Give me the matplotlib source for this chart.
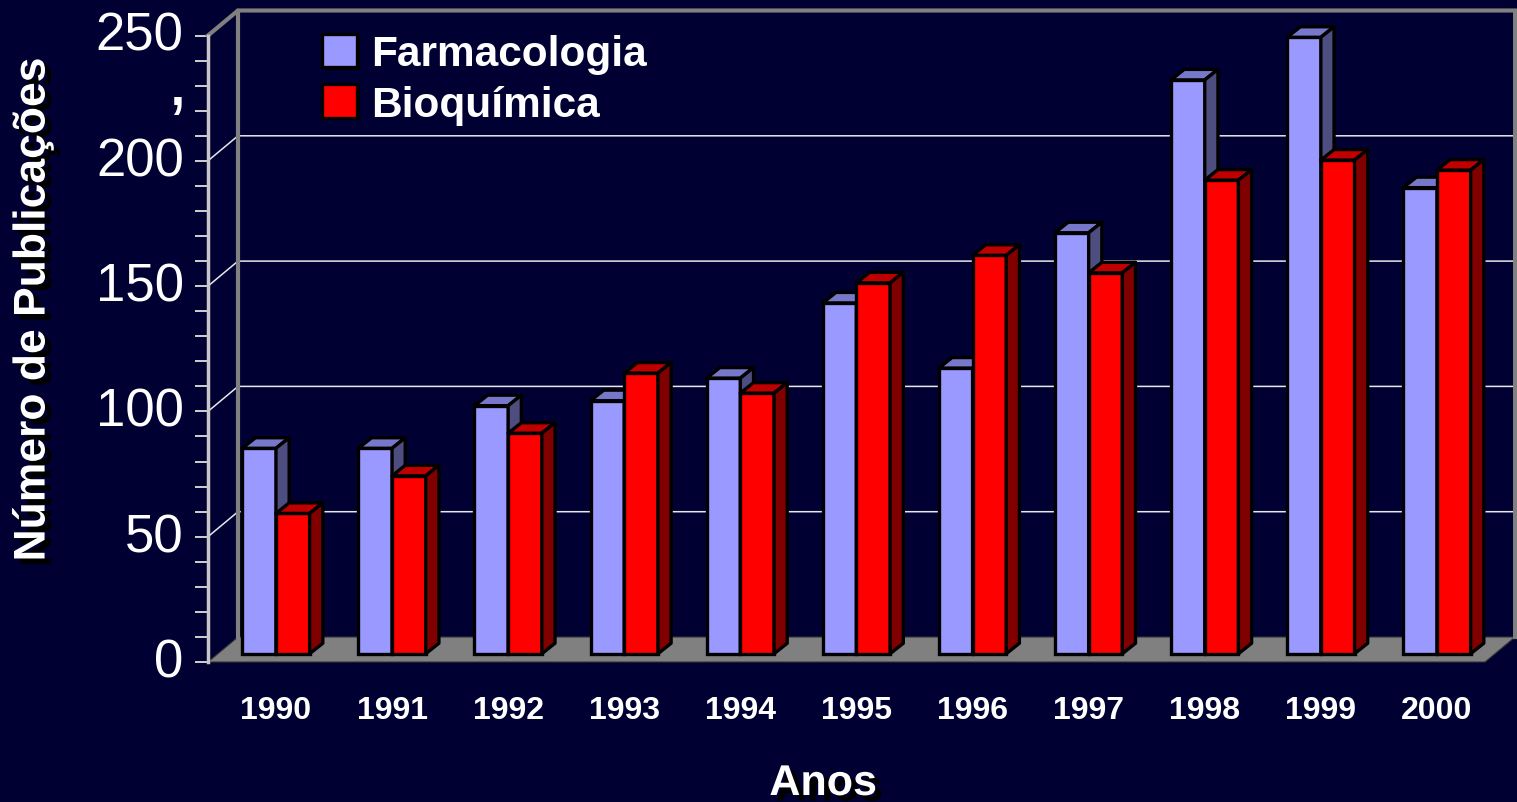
import numpy as np
import matplotlib
matplotlib.use("Agg")
import matplotlib.pyplot as plt
import matplotlib.patheffects as pe
from matplotlib.patches import Polygon, Patch
from matplotlib.collections import PolyCollection
from matplotlib.transforms import ScaledTranslation

# data
anos = ['1990', '1991', '1992', '1993', '1994', '1995', '1996', '1997', '1998', '1999', '2000']
farmacologia = [82, 82, 99, 101, 110, 140, 114, 168, 229, 246, 186]
bioquimica = [56, 71, 88, 112, 104, 148, 159, 152, 189, 197, 193]

# name, values, front / top / side colours
series = [
    ('Farmacologia', farmacologia, '#9999FF', '#7777CC', '#4D4D80'),
    ('Bioquímica', bioquimica, '#FF0000', '#C00000', '#800000'),
]

BG = '#000033'
plt.rcParams['font.family'] = ['Liberation Sans', 'DejaVu Sans']

W, H = 1517, 803
fig = plt.figure(figsize=(W / 100, H / 100), dpi=100, facecolor=BG)
ax = fig.add_axes([0, 0, 1, 1])
ax.set_facecolor(BG)

# pseudo 3D box layout (front-left corner of the floor is x=-0.5, y=0)
x0_px, y0_px = 208, 663
px_cat, px_unit = 116.1, 2.506
ax.set_xlim(-0.5 - x0_px / px_cat, -0.5 + (W - x0_px) / px_cat)
ax.set_ylim(-(H - y0_px) / px_unit, y0_px / px_unit)

n = len(anos)
idx = np.arange(n)
ymax = 250
xl, xr = -0.5, n - 0.5
DX, DY = 30 / px_cat, 25 / px_unit          # depth of the walls

# floor
ax.add_patch(Polygon([(xl, 0), (xr, 0), (xr + DX, DY), (xl + DX, DY)],
                     closed=True, fc='#808080', ec='#333333', lw=0.8, zorder=1))

# gridlines on back wall + left wall
for v in range(50, ymax, 50):
    ax.plot([xl, xl + DX, xr + DX], [v, v + DY, v + DY], color='#E8E8E8', lw=1.1, zorder=1.5)

# wall edges
ax.plot([xl, xl + DX, xr + DX, xr + DX], [ymax, ymax + DY, ymax + DY, DY],
        color='#808080', lw=3, zorder=1.6, solid_joinstyle='miter')
ax.plot([xl + DX, xl + DX], [DY, ymax + DY], color='#808080', lw=3, zorder=1.6)

# 3D bars
bw = 0.29
fx, fy = 0.33 * DX, 0.33 * DY      # bars front plane
bdx, bdy = 0.44 * DX, 0.42 * DY    # bar depth
for k, (name, vals, c_front, c_top, c_side) in enumerate(series):
    xs = idx + fx + (k - 1) * bw
    z = 3 + k
    ax.bar(xs, vals, width=bw, bottom=fy, align='edge', color=c_front,
           edgecolor='black', linewidth=2.4, zorder=z)
    tops, sides = [], []
    for x, v in zip(xs, vals):
        yt = v + fy
        tops.append([(x, yt), (x + bw, yt), (x + bw + bdx, yt + bdy), (x + bdx, yt + bdy)])
        sides.append([(x + bw, fy), (x + bw + bdx, fy + bdy), (x + bw + bdx, yt + bdy), (x + bw, yt)])
    ax.add_collection(PolyCollection(tops, facecolors=c_top, edgecolors='black',
                                     linewidths=2.4, zorder=z))
    ax.add_collection(PolyCollection(sides, facecolors=c_side, edgecolors='black',
                                     linewidths=2.4, zorder=z))

# axes
for s in ['top', 'right']:
    ax.spines[s].set_visible(False)
ax.spines['left'].set_position(('data', xl))
ax.spines['left'].set_bounds(0, ymax)
ax.spines['left'].set_color('#C8C8C8')
ax.spines['left'].set_linewidth(2.5)
ax.spines['bottom'].set_position(('data', 0))
ax.spines['bottom'].set_visible(False)

ax.set_yticks(range(0, ymax + 1, 50))
ax.set_yticks(range(0, ymax + 1, 10), minor=True)
ax.tick_params(axis='y', which='both', direction='out', length=9.5, width=1.3,
               colors='#E0E0E0', labelcolor='white', labelsize=38, pad=8)
off = ScaledTranslation(0, 0.05, fig.dpi_scale_trans)
for t in ax.yaxis.get_major_ticks():
    t.label1.set_transform(t.label1.get_transform() + off)

ax.set_xticks(idx + fx, anos)
ax.tick_params(axis='x', length=0, pad=24, labelsize=23, labelcolor='white')
for lbl in ax.get_xticklabels():
    lbl.set_fontweight('bold')

# stray comma on the slide
ax.text(-0.76, 222.5, ',', color='white', fontsize=56, ha='center', va='baseline')

shadow = [pe.SimplePatchShadow(offset=(4.5, -4), shadow_rgbFace='black', alpha=1), pe.Normal()]
ax.text(0.0218, 0.6140, 'Número de Publicações', transform=ax.transAxes, rotation=90,
        ha='center', va='center', color='white', fontsize=32, fontweight='bold',
        path_effects=shadow)
ax.text(0.5425, 1 - 796 / H, 'Anos', transform=ax.transAxes, ha='center', va='baseline',
        color='white', fontsize=31, fontweight='bold', path_effects=shadow)

# legend
box_shadow = [pe.SimplePatchShadow(offset=(2, -2), shadow_rgbFace='black', alpha=1), pe.Normal()]
handles = [Patch(facecolor=s[2], edgecolor='black', linewidth=2.4, path_effects=box_shadow)
           for s in series]
ax.legend(handles, [s[0] for s in series], loc='upper left',
          bbox_to_anchor=(322 / W, 1 - 35 / H), frameon=False,
          prop={'weight': 'bold', 'size': 30.5}, labelcolor='white',
          handlelength=0.83, handleheight=0.83, handletextpad=0.32,
          labelspacing=0.24, borderpad=0, borderaxespad=0)

fig.savefig('out.png', dpi=100, facecolor=BG)
